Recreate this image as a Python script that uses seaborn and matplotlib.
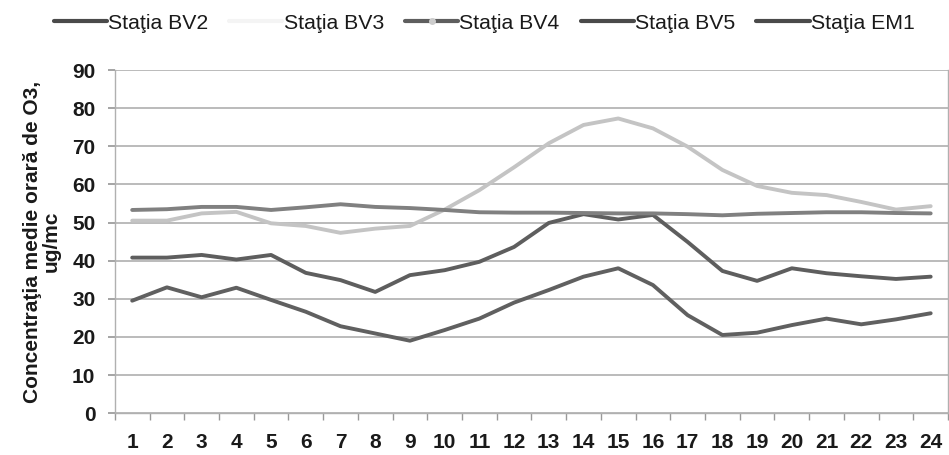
import numpy as np
import pandas as pd
import matplotlib
matplotlib.use("Agg")
import matplotlib.pyplot as plt
from matplotlib.lines import Line2D
import seaborn as sns

hours = list(range(1, 25))
stations = ["Staţia BV2", "Staţia BV3", "Staţia BV4", "Staţia BV5", "Staţia EM1"]

bv2 = [40.8, 40.8, 41.5, 40.3, 41.5, 36.8, 34.9, 31.8, 36.2, 37.5, 39.7, 43.6,
       49.9, 52.2, 50.8, 52.0, 44.9, 37.3, 34.7, 38.0, 36.7, 35.9, 35.2, 35.8]
bv3 = [50.5, 50.5, 52.4, 52.8, 49.8, 49.1, 47.3, 48.4, 49.1, 53.4, 58.5, 64.5,
       70.8, 75.6, 77.3, 74.7, 69.9, 63.8, 59.6, 57.8, 57.2, 55.4, 53.4, 54.3]
bv4 = [53.3, 53.5, 54.1, 54.1, 53.3, 54.0, 54.8, 54.1, 53.8, 53.3, 52.7, 52.6,
       52.6, 52.5, 52.4, 52.4, 52.2, 51.9, 52.3, 52.5, 52.7, 52.7, 52.5, 52.4]
bv5 = [29.5, 33.0, 30.4, 32.9, 29.7, 26.6, 22.8, 20.9, 19.0, 21.8, 24.8, 29.0,
       32.3, 35.8, 38.0, 33.6, 25.7, 20.5, 21.1, 23.1, 24.8, 23.3, 24.6, 26.2]
em1 = [np.nan] * 24

yticks = list(range(0, 100, 10))

colors = {"Staţia BV2": "#5e5e5e", "Staţia BV3": "#c4c4c4", "Staţia BV4": "#808080",
          "Staţia BV5": "#606060", "Staţia EM1": "#555555"}

series = {"Staţia BV2": bv2, "Staţia BV3": bv3, "Staţia BV4": bv4,
          "Staţia BV5": bv5, "Staţia EM1": em1}
df = pd.DataFrame([(h, s, v) for s, vals in series.items() for h, v in zip(hours, vals)],
                  columns=["ora", "statie", "val"]).dropna()

sns.set_theme(style="white")
plt.rcParams["font.family"] = ["Liberation Sans", "DejaVu Sans"]

fig = plt.figure(figsize=(9.49, 4.55), dpi=100)
ax = fig.add_axes([0.121, 0.092, 0.878, 0.754])

sns.lineplot(data=df, x="ora", y="val", hue="statie", palette=colors,
             hue_order=[s for s in stations if s in df["statie"].unique()],
             linewidth=2.8, ax=ax, legend=False, zorder=3)

ax.set_xlim(0.5, 24.5)
ax.set_ylim(0, 90)
ax.set_yticks(yticks)
ax.set_xticks(hours)
ax.set_xticks(np.arange(0.5, 25, 1), minor=True)
ax.tick_params(axis="x", which="major", length=0, pad=14, labelsize=15)
ax.tick_params(axis="x", which="minor", length=5, direction="out", color="#999999", bottom=True)
ax.tick_params(axis="y", which="major", length=5, direction="out", color="#999999",
               left=True, pad=9, labelsize=15)
for lab in ax.get_xticklabels() + ax.get_yticklabels():
    lab.set_color("#1a1a1a")
    lab.set_fontweight("bold")
ax.grid(axis="y", color="#a8a8a8", linewidth=1.1, zorder=0)
ax.set_axisbelow(True)
for side in ["left", "bottom", "right"]:
    ax.spines[side].set_color("#b0b0b0")
    ax.spines[side].set_linewidth(1.0)
ax.spines["top"].set_visible(False)
ax.set_xlabel("")
ax.set_ylabel("Concentraţia medie orară de O3,\nug/mc", fontsize=15, fontweight="bold",
              color="#1a1a1a", labelpad=8, linespacing=1.0)

handles = []
for s in stations:
    if s == "Staţia BV4":
        h = Line2D([], [], color="#5e5e5e", linewidth=3, marker="o", markersize=4,
                   markerfacecolor="#cccccc", markeredgecolor="#cccccc")
    elif s == "Staţia BV3":
        h = Line2D([], [], color="#f4f4f4", linewidth=3)
    else:
        h = Line2D([], [], color="#4a4a4a", linewidth=3)
    handles.append(h)
fig.legend(handles, stations, loc="upper center", bbox_to_anchor=(0.51, 1.012), ncol=5,
           frameon=False, fontsize=15.3, handlelength=2.5, handletextpad=0.05,
           columnspacing=1.0, labelcolor="#1a1a1a")

fig.savefig("out.png", dpi=100)
